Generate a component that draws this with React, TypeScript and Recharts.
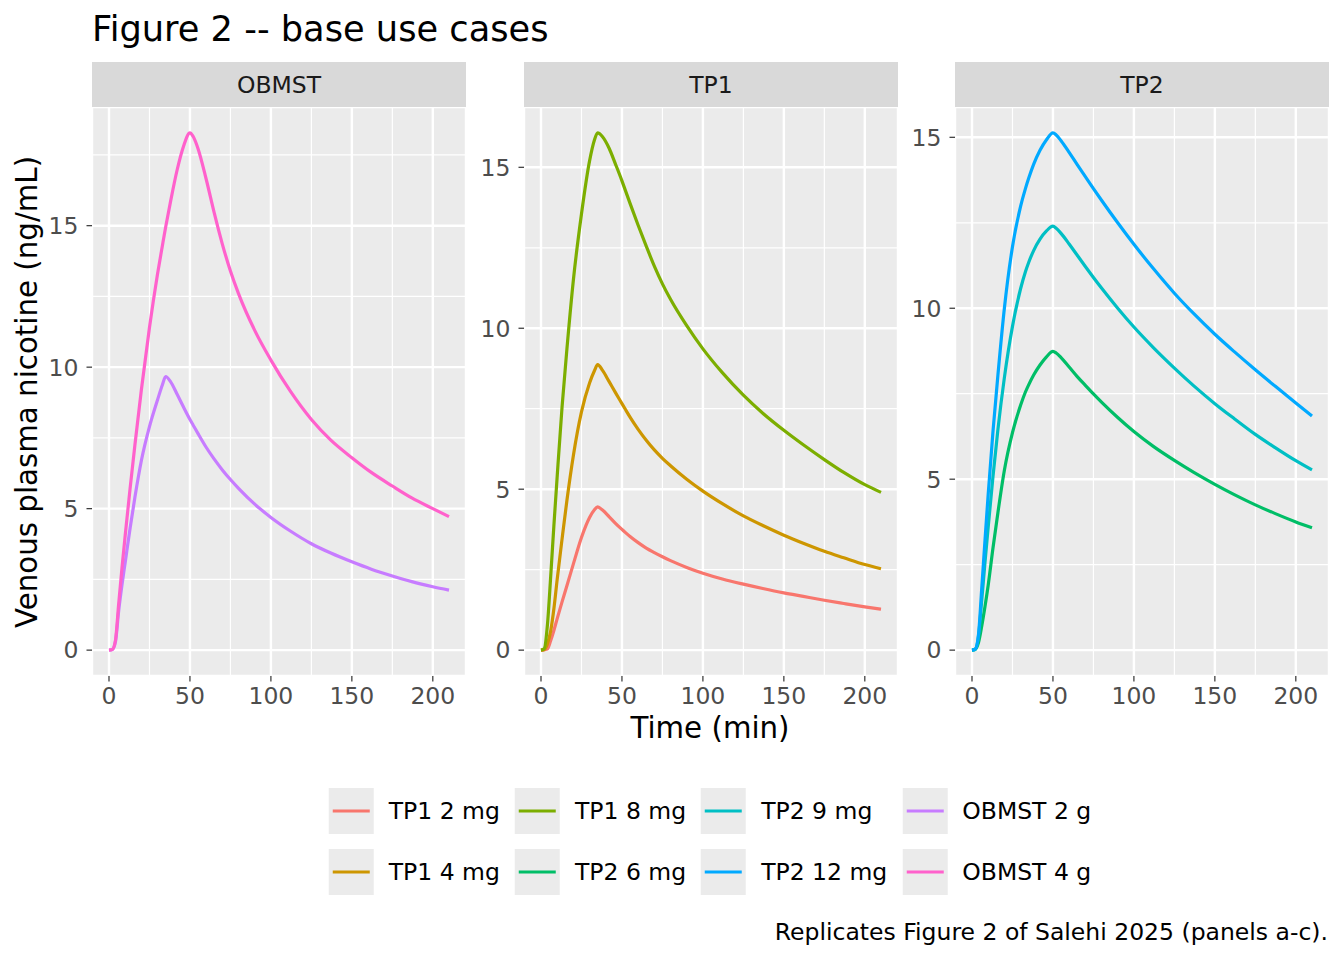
import { LineChart, Line, XAxis, YAxis, CartesianGrid } from "recharts";

const FONT = "'DejaVu Sans', sans-serif";

// time grid (min)
const TIME = [0, 2, 4, 6, 8, 10, 13, 16, 20, 25, 30, 33, 35, 38, 42, 46, 50, 52, 55, 60, 65, 70, 75, 80, 90, 100, 112, 125, 137, 150, 162, 175, 187, 200, 210];

// venous plasma nicotine (ng/mL)
const TP1_2MG = [0, 0.01, 0.04, 0.3, 0.62, 0.98, 1.5, 2.0, 2.68, 3.5, 4.12, 4.36, 4.45, 4.35, 4.15, 3.94, 3.75, 3.66, 3.53, 3.34, 3.17, 3.03, 2.9, 2.78, 2.57, 2.39, 2.21, 2.05, 1.915, 1.78, 1.67, 1.55, 1.45, 1.345, 1.27];
const TP1_4MG = [0, 0.02, 0.2, 0.6, 1.3, 2.2, 3.45, 4.65, 6.05, 7.4, 8.3, 8.68, 8.87, 8.69, 8.35, 8.0, 7.66, 7.49, 7.24, 6.86, 6.52, 6.22, 5.96, 5.73, 5.31, 4.94, 4.55, 4.17, 3.87, 3.57, 3.32, 3.07, 2.87, 2.66, 2.53];
const TP1_8MG = [0, 0.05, 0.8, 2.3, 3.9, 5.4, 7.55, 9.35, 11.5, 13.55, 15.2, 15.85, 16.07, 15.95, 15.6, 15.1, 14.58, 14.3, 13.88, 13.2, 12.55, 11.93, 11.38, 10.9, 10.08, 9.36, 8.62, 7.92, 7.36, 6.83, 6.38, 5.92, 5.52, 5.14, 4.9];
const TP2_6MG = [0, 0.02, 0.22, 0.7, 1.27, 1.9, 3.0, 4.02, 5.26, 6.36, 7.16, 7.55, 7.76, 8.04, 8.34, 8.58, 8.74, 8.69, 8.555, 8.28, 8.0, 7.745, 7.495, 7.255, 6.805, 6.395, 5.96, 5.55, 5.2, 4.85, 4.55, 4.25, 4.0, 3.75, 3.58];
const TP2_9MG = [0, 0.03, 0.4, 1.45, 2.55, 3.6, 5.1, 6.45, 7.97, 9.47, 10.57, 11.07, 11.34, 11.68, 12.02, 12.26, 12.4, 12.34, 12.19, 11.88, 11.55, 11.22, 10.9, 10.59, 10.0, 9.45, 8.85, 8.25, 7.73, 7.21, 6.77, 6.31, 5.93, 5.54, 5.27];
const TP2_12MG = [0, 0.03, 0.45, 1.8, 3.2, 4.56, 6.42, 8.04, 10.0, 11.8, 12.98, 13.5, 13.8, 14.2, 14.62, 14.93, 15.13, 15.07, 14.9, 14.56, 14.2, 13.85, 13.5, 13.16, 12.5, 11.87, 11.16, 10.44, 9.84, 9.24, 8.73, 8.2, 7.73, 7.23, 6.85];
const OBMST_2G = [0, 0.02, 0.3, 1.4, 2.3, 3.1, 4.3, 5.4, 6.7, 7.9, 8.85, 9.38, 9.67, 9.49, 9.05, 8.59, 8.15, 7.95, 7.65, 7.17, 6.75, 6.37, 6.03, 5.72, 5.16, 4.69, 4.21, 3.76, 3.43, 3.12, 2.86, 2.62, 2.42, 2.24, 2.12];
const OBMST_4G = [0, 0.02, 0.35, 1.65, 2.9, 4.05, 5.7, 7.25, 9.2, 11.4, 13.3, 14.3, 14.95, 15.85, 16.95, 17.8, 18.28, 18.15, 17.72, 16.65, 15.45, 14.35, 13.4, 12.6, 11.3, 10.25, 9.15, 8.15, 7.42, 6.8, 6.28, 5.8, 5.38, 5.0, 4.72];

const PANELS = ["OBMST", "TP1", "TP2"];

const SERIES = [
  { key: "tp1_2", name: "TP1 2 mg", panel: "TP1", color: "#F8766D", values: TP1_2MG },
  { key: "tp1_4", name: "TP1 4 mg", panel: "TP1", color: "#CD9600", values: TP1_4MG },
  { key: "tp1_8", name: "TP1 8 mg", panel: "TP1", color: "#7CAE00", values: TP1_8MG },
  { key: "tp2_6", name: "TP2 6 mg", panel: "TP2", color: "#00BE67", values: TP2_6MG },
  { key: "tp2_9", name: "TP2 9 mg", panel: "TP2", color: "#00BFC4", values: TP2_9MG },
  { key: "tp2_12", name: "TP2 12 mg", panel: "TP2", color: "#00A9FF", values: TP2_12MG },
  { key: "ob_2", name: "OBMST 2 g", panel: "OBMST", color: "#C77CFF", values: OBMST_2G },
  { key: "ob_4", name: "OBMST 4 g", panel: "OBMST", color: "#FF61CC", values: OBMST_4G },
];

const X_TICKS = [0, 50, 100, 150, 200];
const X_MINOR = [25, 75, 125, 175];
const Y_TICKS = [0, 5, 10, 15];
const Y_MINOR = [2.5, 7.5, 12.5, 17.5];

const ROWS = TIME.map((t, i) => {
  const row: Record<string, number> = { t };
  SERIES.forEach((s) => (row[s.key] = s.values[i]));
  return row;
});

const PLOT_W = 374;
const PLOT_H = 569;
const AXIS_W = 60;
const XAXIS_H = 40;
const PLOT_TOP = 107;
const PANEL_LEFT = [92, 524, 955];

const tEnd = TIME[TIME.length - 1];
const X_DOMAIN = [-tEnd * 0.05, tEnd * 1.05];

const SMALL = 23.5;
const tickStyle = { fill: "#4D4D4D", fontSize: SMALL, fontFamily: FONT };

const Panel = ({ name, left }: { name: string; left: number }) => {
  const series = SERIES.filter((s) => s.panel === name);
  const maxY = Math.max(...series.flatMap((s) => s.values));
  const pad = maxY * 0.05;
  const yDomain = [-pad, maxY + pad];
  const minorY = Y_MINOR.filter((v) => v < maxY + pad);

  return (
    <div style={{ position: "absolute", left: left - AXIS_W, top: PLOT_TOP - 45 }}>
      <div
        style={{
          marginLeft: AXIS_W,
          width: PLOT_W,
          height: 45,
          background: "#D9D9D9",
          color: "#1A1A1A",
          fontSize: SMALL,
          fontFamily: FONT,
          display: "flex",
          alignItems: "center",
          justifyContent: "center",
        }}
      >
        {name}
      </div>
      <LineChart
        width={AXIS_W + PLOT_W}
        height={PLOT_H + XAXIS_H}
        data={ROWS}
        margin={{ top: 0, right: 0, bottom: 0, left: 0 }}
      >
        <CartesianGrid
          fill="#EBEBEB"
          stroke="#FFFFFF"
          strokeWidth={1.2}
          horizontalValues={minorY}
          verticalValues={X_MINOR}
        />
        <CartesianGrid stroke="#FFFFFF" strokeWidth={2.4} />
        <XAxis
          type="number"
          dataKey="t"
          domain={X_DOMAIN}
          ticks={X_TICKS}
          allowDataOverflow
          height={XAXIS_H}
          axisLine={false}
          tickLine={{ stroke: "#333333", strokeWidth: 1.2 }}
          tickSize={5.5}
          tickMargin={6}
          tick={tickStyle}
        />
        <YAxis
          type="number"
          domain={yDomain}
          ticks={Y_TICKS}
          allowDataOverflow
          width={AXIS_W}
          axisLine={false}
          tickLine={{ stroke: "#333333", strokeWidth: 1.2 }}
          tickSize={5.5}
          tickMargin={8}
          tick={tickStyle}
        />
        {series.map((s) => (
          <Line
            key={s.key}
            dataKey={s.key}
            name={s.name}
            type="monotone"
            stroke={s.color}
            strokeWidth={3.2}
            dot={false}
            activeDot={false}
            isAnimationActive={false}
          />
        ))}
      </LineChart>
    </div>
  );
};

const LegendBox = () => (
  <div
    style={{
      position: "absolute",
      top: 788,
      left: 710,
      transform: "translateX(-50%)",
      display: "grid",
      gridTemplateRows: "repeat(2, auto)",
      gridAutoFlow: "column",
      rowGap: 15,
      columnGap: 15,
      fontFamily: FONT,
      fontSize: SMALL,
      color: "#000000",
    }}
  >
    {SERIES.map((s) => (
      <div key={s.key} style={{ display: "flex", alignItems: "center" }}>
        <svg width={45} height={46} style={{ background: "#EBEBEB", display: "block" }}>
          <line x1={4} x2={41} y1={23} y2={23} stroke={s.color} strokeWidth={3.2} />
        </svg>
        <span style={{ marginLeft: 15, whiteSpace: "nowrap" }}>{s.name}</span>
      </div>
    ))}
  </div>
);

export default function App() {
  return (
    <div
      style={{
        position: "absolute",
        top: 0,
        left: 0,
        width: 1344,
        height: 960,
        background: "#FFFFFF",
        fontFamily: FONT,
        overflow: "hidden",
      }}
    >
      <div style={{ position: "absolute", left: 92, top: 8, fontSize: 35.2, lineHeight: 1.2, color: "#000", whiteSpace: "nowrap" }}>
        Figure 2 -- base use cases
      </div>
      {PANELS.map((p, i) => (
        <Panel key={p} name={p} left={PANEL_LEFT[i]} />
      ))}
      <div
        style={{
          position: "absolute",
          left: 27,
          top: PLOT_TOP + PLOT_H / 2,
          transform: "translate(-50%, -50%) rotate(-90deg)",
          whiteSpace: "nowrap",
          fontSize: 29.3,
          color: "#000",
        }}
      >
        Venous plasma nicotine (ng/mL)
      </div>
      <div
        style={{
          position: "absolute",
          left: 710,
          top: 728,
          transform: "translate(-50%, -50%)",
          whiteSpace: "nowrap",
          fontSize: 29.3,
          color: "#000",
        }}
      >
        Time (min)
      </div>
      <LegendBox />
      <div
        style={{
          position: "absolute",
          right: 1344 - 1328,
          top: 932,
          transform: "translateY(-50%)",
          fontSize: SMALL,
          color: "#000",
          whiteSpace: "nowrap",
        }}
      >
        Replicates Figure 2 of Salehi 2025 (panels a-c).
      </div>
    </div>
  );
}
